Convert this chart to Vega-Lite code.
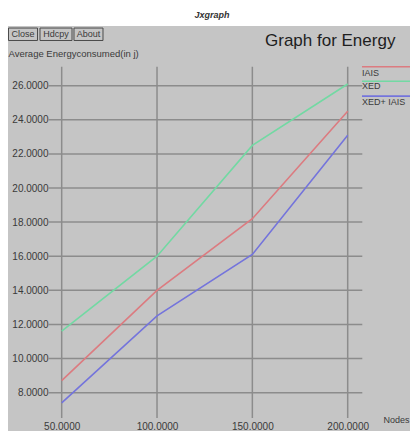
{
  "$schema": "https://vega.github.io/schema/vega-lite/v6.json",
  "width": 402,
  "height": 405,
  "autosize": {"type": "none"},
  "padding": {"left": 8, "top": 26, "right": 0, "bottom": 4},
  "background": "#ffffff",
  "title": {"text": "Jxgraph", "anchor": "middle", "frame": "group", "fontSize": 9, "fontWeight": "bold", "fontStyle": "italic", "font": "Liberation Sans", "color": "#333333", "baseline": "alphabetic", "offset": -1, "dx": 3},
  "config": {
    "view": {"fill": "#c5c5c5", "stroke": null},
    "font": "Liberation Sans"
  },
  "datasets": {
    "energy": [
      {"nodes": 50, "energy": 8.7, "series": "IAIS"},
      {"nodes": 100, "energy": 14.0, "series": "IAIS"},
      {"nodes": 150, "energy": 18.2, "series": "IAIS"},
      {"nodes": 200, "energy": 24.5, "series": "IAIS"},
      {"nodes": 50, "energy": 11.6, "series": "XED"},
      {"nodes": 100, "energy": 16.0, "series": "XED"},
      {"nodes": 150, "energy": 22.5, "series": "XED"},
      {"nodes": 200, "energy": 26.1, "series": "XED"},
      {"nodes": 50, "energy": 7.4, "series": "XED+ IAIS"},
      {"nodes": 100, "energy": 12.5, "series": "XED+ IAIS"},
      {"nodes": 150, "energy": 16.1, "series": "XED+ IAIS"},
      {"nodes": 200, "energy": 23.1, "series": "XED+ IAIS"}
    ],
    "xticks": [{"v": 50}, {"v": 100}, {"v": 150}, {"v": 200}],
    "yticks": [{"v": 8}, {"v": 10}, {"v": 12}, {"v": 14}, {"v": 16}, {"v": 18}, {"v": 20}, {"v": 22}, {"v": 24}, {"v": 26}],
    "one": [{}]
  },
  "layer": [
    {
      "data": {"name": "yticks"},
      "mark": {"type": "rule", "color": "#8c8c8c", "strokeWidth": 1.5},
      "encoding": {
        "y": {"field": "v", "type": "quantitative", "scale": {"domain": [5.75, 29.5], "nice": false, "zero": false},
          "axis": {"values": [8, 10, 12, 14, 16, 18, 20, 22, 24, 26], "format": ".4f", "orient": "left", "offset": -40, "domain": false, "ticks": false, "grid": false, "labelPadding": 0, "labelFontSize": 10, "labelColor": "#3a3a3a",
            "title": "Average Energyconsumed(in j)", "titleAngle": 0, "titleAlign": "left", "titleBaseline": "middle", "titleX": -40, "titleY": 27, "titleFontSize": 9.5, "titleFontWeight": "normal", "titleColor": "#3a3a3a"}},
        "x": {"datum": 42.98, "type": "quantitative", "scale": {"domain": [21.84, 232.68], "nice": false, "zero": false},
          "axis": {"values": [50, 100, 150, 200], "format": ".4f", "orient": "bottom", "offset": -12, "domain": false, "ticks": false, "grid": false, "labelPadding": 2, "labelFontSize": 10, "labelColor": "#3a3a3a", "labelFlush": false,
            "title": "Nodes", "titleAlign": "left", "titleBaseline": "middle", "titleX": 375, "titleY": 0, "titleFontSize": 9, "titleFontWeight": "normal", "titleColor": "#3a3a3a"}},
        "x2": {"datum": 207.66}
      }
    },
    {
      "data": {"name": "xticks"},
      "mark": {"type": "rule", "color": "#8c8c8c", "strokeWidth": 1.5},
      "encoding": {
        "x": {"field": "v", "type": "quantitative"},
        "y": {"datum": 27.11, "type": "quantitative"},
        "y2": {"datum": 6.51}
      }
    },
    {
      "data": {"name": "energy"},
      "mark": {"type": "line", "strokeWidth": 1.6},
      "encoding": {
        "x": {"field": "nodes", "type": "quantitative"},
        "y": {"field": "energy", "type": "quantitative"},
        "color": {"field": "series", "type": "nominal", "scale": {"domain": ["IAIS", "XED", "XED+ IAIS"], "range": ["#dc7b80", "#72d9a3", "#7474dc"]}, "legend": null}
      }
    },
    {
      "data": {"name": "one"},
      "mark": {"type": "rule", "strokeWidth": 1.6},
      "encoding": {"x": {"datum": 207.5, "type": "quantitative"}, "x2": {"datum": 232.68}, "y": {"datum": 27.11, "type": "quantitative"}, "color": {"datum": "IAIS"}}
    },
    {
      "data": {"name": "one"},
      "mark": {"type": "rule", "strokeWidth": 1.6},
      "encoding": {"x": {"datum": 207.5, "type": "quantitative"}, "x2": {"datum": 232.68}, "y": {"datum": 26.26, "type": "quantitative"}, "color": {"datum": "XED"}}
    },
    {
      "data": {"name": "one"},
      "mark": {"type": "rule", "strokeWidth": 1.6},
      "encoding": {"x": {"datum": 207.5, "type": "quantitative"}, "x2": {"datum": 232.68}, "y": {"datum": 25.39, "type": "quantitative"}, "color": {"datum": "XED+ IAIS"}}
    },
    {
      "data": {"name": "one"},
      "mark": {"type": "text", "align": "left", "baseline": "middle", "fontSize": 9, "color": "#3a3a3a"},
      "encoding": {"x": {"datum": 207.5, "type": "quantitative"}, "y": {"datum": 26.74, "type": "quantitative"}, "text": {"value": "IAIS"}}
    },
    {
      "data": {"name": "one"},
      "mark": {"type": "text", "align": "left", "baseline": "middle", "fontSize": 9, "color": "#3a3a3a"},
      "encoding": {"x": {"datum": 207.5, "type": "quantitative"}, "y": {"datum": 25.98, "type": "quantitative"}, "text": {"value": "XED"}}
    },
    {
      "data": {"name": "one"},
      "mark": {"type": "text", "align": "left", "baseline": "middle", "fontSize": 9, "color": "#3a3a3a"},
      "encoding": {"x": {"datum": 207.5, "type": "quantitative"}, "y": {"datum": 25.07, "type": "quantitative"}, "text": {"value": "XED+ IAIS"}}
    },
    {
      "data": {"name": "one"},
      "mark": {"type": "text", "align": "left", "baseline": "alphabetic", "fontSize": 17, "color": "#1e1e1e"},
      "encoding": {"x": {"datum": 156.63, "type": "quantitative"}, "y": {"datum": 28.33, "type": "quantitative"}, "text": {"value": "Graph for Energy"}}
    },
    {
      "data": {"name": "one"},
      "mark": {"type": "rect", "fill": null, "stroke": "#4a4a4a", "strokeWidth": 1},
      "encoding": {"x": {"datum": 22.1, "type": "quantitative"}, "x2": {"datum": 37.31}, "y": {"datum": 29.38, "type": "quantitative"}, "y2": {"datum": 28.65}}
    },
    {
      "data": {"name": "one"},
      "mark": {"type": "rect", "fill": null, "stroke": "#4a4a4a", "strokeWidth": 1},
      "encoding": {"x": {"datum": 38.62, "type": "quantitative"}, "x2": {"datum": 55.41}, "y": {"datum": 29.38, "type": "quantitative"}, "y2": {"datum": 28.65}}
    },
    {
      "data": {"name": "one"},
      "mark": {"type": "rect", "fill": null, "stroke": "#4a4a4a", "strokeWidth": 1},
      "encoding": {"x": {"datum": 56.45, "type": "quantitative"}, "x2": {"datum": 71.66}, "y": {"datum": 29.38, "type": "quantitative"}, "y2": {"datum": 28.65}}
    },
    {
      "data": {"name": "one"},
      "mark": {"type": "text", "align": "center", "baseline": "middle", "fontSize": 9, "color": "#3a3a3a"},
      "encoding": {"x": {"datum": 29.7, "type": "quantitative"}, "y": {"datum": 29.01, "type": "quantitative"}, "text": {"value": "Close"}}
    },
    {
      "data": {"name": "one"},
      "mark": {"type": "text", "align": "center", "baseline": "middle", "fontSize": 9, "color": "#3a3a3a"},
      "encoding": {"x": {"datum": 47.01, "type": "quantitative"}, "y": {"datum": 29.01, "type": "quantitative"}, "text": {"value": "Hdcpy"}}
    },
    {
      "data": {"name": "one"},
      "mark": {"type": "text", "align": "center", "baseline": "middle", "fontSize": 9, "color": "#3a3a3a"},
      "encoding": {"x": {"datum": 64.06, "type": "quantitative"}, "y": {"datum": 29.01, "type": "quantitative"}, "text": {"value": "About"}}
    }
  ]
}
